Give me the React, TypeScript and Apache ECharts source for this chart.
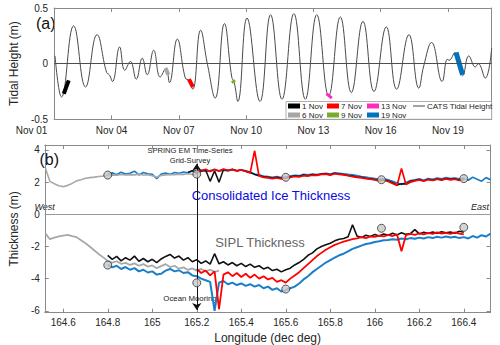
import React, { useEffect, useRef } from "react";
import * as echarts from "echarts";

// ---------- Panel (a): CATS tidal height (days since Nov 01 00:00) ----------
const tideDay = [0.48, 0.77, 1.31, 1.84, 2.35, 2.78, 2.9, 3.04, 3.36, 3.59, 3.84, 4.1, 4.37, 4.59, 4.88, 5.17, 5.43, 5.58, 5.93, 6.29, 6.45, 6.62, 6.97, 7.28, 7.62, 8.03, 8.36, 8.47, 8.63, 9.04, 9.62, 10.09, 10.6, 11.13, 11.64, 12.15, 12.68, 13.2, 13.69, 14.21, 14.7, 15.25, 15.71, 16.26, 16.7, 16.92, 17.27, 17.74, 17.97, 18.05, 18.31, 18.65, 18.93, 19.22, 19.35, 19.66, 19.95];
const tideHeight = [0.07, -0.3, 0.34, -0.21, 0.26, -0.08, -0.1, -0.16, 0.15, -0.06, 0.02, -0.14, 0.05, -0.1, 0.12, -0.12, -0.04, -0.17, 0.22, -0.13, -0.15, -0.23, 0.3, -0.01, -0.31, 0.36, -0.12, -0.17, -0.34, 0.41, -0.34, 0.44, -0.32, 0.45, -0.32, 0.44, -0.29, 0.42, -0.26, 0.38, -0.25, 0.33, -0.23, 0.26, -0.22, -0.02, 0.19, -0.16, 0.04, 0.03, 0.1, -0.11, 0.07, -0.03, 0.0, -0.13, 0.14];

const tideTickDays = [0, 3, 6, 9, 12, 15, 18];
const tideTickLabels = ["Nov 01", "Nov 04", "Nov 07", "Nov 10", "Nov 13", "Nov 16", "Nov 19"];

// survey segments on the tide curve
const seg1NovDay = [0.87, 1.09], seg1NovH = [-0.27, -0.15];
const seg6NovDay = [5.41, 5.53], seg6NovH = [-0.04, -0.1];
const seg7NovDay = [6.45, 6.63], seg7NovH = [-0.14, -0.21];
const seg9NovDay = [8.4, 8.47], seg9NovH = [-0.15, -0.17];
const seg13NovDay = [12.58, 12.82], seg13NovH = [-0.27, -0.31];
const seg19NovDay = [18.36, 18.65], seg19NovH = [0.1, -0.1];

// ---------- Panel (b): thickness along longitude (0.02 deg sampling) ----------
const LON_STEP = 0.02;
const consGrayStart = 164.52;
const consGray = [2.85, 2.05, 1.9, 1.78, 1.72, 1.8, 1.92, 2.08, 2.15, 2.24, 2.28, 2.31, 2.35, 2.38, 2.42, 2.45, 2.43, 2.48, 2.44, 2.47, 2.45, 2.5, 2.44, 2.46, 2.4, 2.3, 2.42, 2.45, 2.48, 2.46, 2.5, 2.47, 2.52, 2.48, 2.5];
const consBlueStart = 164.8;
const consBlue = [2.5, 2.58, 2.46, 2.62, 2.5, 2.55, 2.68, 2.45, 2.6, 2.52, 2.48, 2.22, 2.5, 2.56, 2.48, 2.6, 2.55, 2.62, 2.58, 2.7, 2.62, 2.75, 2.66, 2.72, 2.8, 2.68, 2.74, 2.7, 2.78, 2.72, 2.76, 2.7, 2.62, 2.5, 2.45, 2.38, 2.35, 2.3, 2.34, 2.28, 2.32, 2.38, 2.42, 2.4, 2.48, 2.45, 2.5, 2.47, 2.52, 2.55, 2.5, 2.58, 2.55, 2.52, 2.48, 2.45, 2.4, 2.35, 2.32, 2.26, 2.22, 2.18, 2.2, 2.15, 2.05, 1.95, 1.85, 1.98, 2.1, 2.15, 2.2, 2.12, 2.22, 2.18, 2.25, 2.2, 2.28, 2.22, 2.26, 2.2, 2.24, 2.12, 2.3, 2.18, 2.06, 2.28, 2.15];
const consBlackStart = 165.16;
const consBlack = [2.6, 2.72, 2.55, 2.68, 2.75, 2.05, 2.7, 2.0, 2.78, 2.72, 2.8, 2.7, 2.76, 2.68, 2.6, 2.48, 2.4, 2.34, 2.3, 2.26, 2.3, 2.24, 2.28, 2.34, 2.38, 2.36, 2.44, 2.4, 2.48, 2.44, 2.5, 2.52, 2.46, 2.55, 2.5, 2.48, 2.42, 2.38, 2.32, 2.3, 2.24, 2.2, 2.16, 2.1, 2.14, 2.08, 1.96, 1.82, 1.9, 1.88, 2.05, 2.1, 2.16, 2.08, 2.18, 2.12, 2.2, 2.15, 2.22, 2.18, 2.2, 2.14, 2.2];
const consRedStart = 165.2;
const consRed = [2.62, 2.72, 2.8, 2.66, 2.78, 2.7, 2.82, 2.74, 2.78, 2.7, 2.76, 2.66, 2.58, 3.95, 2.38, 2.3, 2.26, 2.22, 2.26, 2.2, 2.25, 2.3, 2.35, 2.32, 2.4, 2.38, 2.44, 2.42, 2.48, 2.5, 2.44, 2.52, 2.48, 2.45, 2.4, 2.34, 2.3, 2.26, 2.22, 2.18, 2.14, 2.08, 2.12, 2.04, 1.92, 1.8, 2.85, 1.86, 2.0, 2.08, 2.14, 2.06, 2.16, 2.1, 2.18, 2.12, 2.2, 2.14, 2.18, 2.1, 2.16];

const siplGrayStart = 164.52;
const siplGray = [-1.2, -1.55, -1.45, -1.38, -1.32, -1.28, -1.36, -1.42, -1.62, -1.8, -2.02, -2.25, -2.48, -2.68, -2.9, -3.0, -2.92, -3.08, -3.02, -3.15, -3.05, -3.2, -3.1, -3.25, -3.18, -3.35, -3.22, -3.1, -3.28, -3.2, -3.38, -3.3, -3.45, -3.36, -3.5, -3.4, -3.55, -3.45, -3.58, -3.5];
const siplBlackStart = 164.8;
const siplBlack = [-2.55, -2.8, -2.62, -2.9, -2.7, -2.85, -2.6, -2.92, -2.75, -2.95, -2.8, -3.0, -2.78, -2.62, -2.5, -2.72, -2.6, -2.85, -2.7, -2.95, -2.82, -3.05, -2.9, -3.1, -2.45, -3.08, -2.95, -3.15, -3.0, -3.2, -3.05, -3.25, -3.1, -3.3, -3.2, -3.4, -3.3, -3.5, -3.42, -3.58, -3.45, -3.35, -3.15, -3.0, -2.8, -2.55, -2.4, -2.15, -2.0, -1.9, -1.8, -1.65, -1.55, -1.5, -1.4, -0.65, -1.35, -1.45, -1.3, -1.38, -1.25, -1.35, -1.22, -1.3, -1.18, -1.28, -1.15, -1.25, -1.2, -0.95, -1.22, -1.12, -1.2, -1.1, -1.18, -1.08, -1.15, -1.1, -1.18, -1.05, -1.12];
const siplRedStart = 165.2;
const siplRed = [-3.4, -3.65, -3.5, -3.8, -3.55, -5.9, -3.75, -3.6, -3.85, -3.65, -3.9, -3.7, -3.95, -3.75, -4.0, -3.85, -4.05, -3.95, -4.2, -4.1, -4.25, -4.0, -3.8, -3.6, -3.35, -3.1, -2.85, -2.6, -2.4, -2.2, -2.05, -1.9, -1.8, -1.7, -1.62, -1.55, -1.5, -1.42, -1.48, -1.38, -1.4, -1.32, -1.38, -1.28, -1.35, -1.25, -2.3, -1.3, -1.22, -1.28, -1.18, -1.25, -1.15, -1.22, -1.12, -1.2, -1.15, -1.22, -1.12, -1.2, -1.25];
const siplBlueStart = 164.8;
const siplBlue = [-3.15, -3.3, -3.2, -3.4, -3.28, -3.45, -3.35, -3.55, -3.45, -3.62, -3.55, -3.75, -3.7, -3.5, -3.4, -3.55, -3.48, -3.65, -3.6, -3.8, -3.85, -4.0, -4.1, -4.2, -6.0, -4.25, -4.15, -4.35, -4.25, -4.4, -4.3, -4.45, -4.35, -4.5, -4.4, -4.6, -4.5, -4.7, -4.6, -4.8, -4.72, -4.6, -4.5, -4.3, -4.05, -3.85, -3.6, -3.4, -3.2, -3.0, -2.85, -2.7, -2.55, -2.45, -2.3, -2.15, -2.05, -1.95, -1.85, -1.8, -1.72, -1.68, -1.62, -1.6, -1.55, -1.58, -1.5, -1.55, -1.48, -1.52, -1.45, -1.5, -1.42, -1.48, -1.4, -1.45, -1.38, -1.44, -1.4, -1.48, -1.42, -1.5, -1.35, -1.45, -1.3, -1.38, -1.2];

// drill / survey sites (grey circles)
const siteLon = [164.8, 165.2, 165.6, 166.03, 166.4];
const siteConsolidated = [2.44, 2.5, 2.3, 2.15, 2.22];
const siteSipl = [-3.16, -4.26, -4.65, -0.87, -0.81];
const mooringLon = 165.2;

const lonTicks = [164.6, 164.8, 165, 165.2, 165.4, 165.6, 165.8, 166, 166.2, 166.4];
const thickTicks = [-6, -4, -2, 0, 2, 4];

// legend layout: [name, column x, row]
const legendItems: [string, number, number][] = [
  ["1 Nov", 288, 0], ["7 Nov", 327, 0], ["13 Nov", 367, 0], ["CATS Tidal Height", 413, 0],
  ["6 Nov", 288, 1], ["9 Nov", 327, 1], ["19 Nov", 367, 1],
];

const FONT = "'Liberation Sans', Arial, Helvetica, sans-serif";
const AX = "#8a8a8a";
const TXT = "#262626";

const A = { left: 41.7, right: 8.3, top: 8, height: 111.3 };
const B = { left: 31.7, right: 9.5, top: 145, height: 167.7 };
const A_MIN = 0.44, A_MAX = 19.95;
const B_MIN = 164.517, B_MAX = 166.52;

const LINE_ICON = "path://M0,0h12v0.01h-12z M0,2.1h12v0.9h-12z M0,5h12v0.01h-12z";

const zip = (xs: number[], ys: number[]) => ys.map((y, i) => [xs[i], y]);
const along = (start: number, vals: number[]) => vals.map((v, i) => [+(start + i * LON_STEP).toFixed(3), v]);

function seg(name: string, xs: number[], ys: number[], color: string, width: number) {
  return {
    type: "line", name, xAxisIndex: 0, yAxisIndex: 0, data: zip(xs, ys), symbol: "none",
    lineStyle: { color, width, cap: "butt" }, itemStyle: { color }, z: 3, silent: true,
  };
}
function trace(name: string, start: number, vals: number[], color: string, width = 1.7, opacity = 1) {
  return {
    type: "line", name, xAxisIndex: 2, yAxisIndex: 2, data: along(start, vals), symbol: "none",
    lineStyle: { color, width, opacity }, itemStyle: { color }, silent: true,
  };
}

function baseAxis(extra: any) {
  return {
    type: "value",
    axisLine: { show: true, onZero: false, lineStyle: { color: AX, width: 1 } },
    splitLine: { show: false },
    ...extra,
  };
}

export default function App() {
  const ref = useRef<HTMLDivElement>(null);
  useEffect(() => {
    const chart = echarts.init(ref.current!, null, { renderer: "svg" });
    const innerTicks = tideTickDays.slice(1);
    const tideLabel = (v: number) => tideTickLabels[tideTickDays.indexOf(Math.round(v))] ?? "";
    const wA = 500 - A.left - A.right;
    const nov01X = A.left + ((tideTickDays[0] - A_MIN) / (A_MAX - A_MIN)) * wA;

    const legends = legendItems.map(([name, x, row]) => ({
      data: [{ name, icon: name === "CATS Tidal Height" ? LINE_ICON : "rect" }],
      left: x, top: 102 + row * 9, itemWidth: 12, itemHeight: 5, itemGap: 0, padding: 0,
      selectedMode: false,
      textStyle: { fontSize: 8, color: TXT, fontFamily: FONT, padding: [0, 0, 0, -3] },
    }));

    const option: any = {
      animation: false,
      textStyle: { fontFamily: FONT },
      grid: [
        { left: A.left, right: A.right, top: A.top, height: A.height },
        { left: B.left, right: B.right, top: B.top, height: B.height },
      ],
      xAxis: [
        baseAxis({
          gridIndex: 0, min: A_MIN, max: A_MAX,
          axisTick: { inside: true, length: 4, customValues: innerTicks, lineStyle: { color: AX } },
          axisLabel: { customValues: innerTicks, formatter: tideLabel, color: TXT, fontSize: 10, margin: 6 },
        }),
        baseAxis({
          gridIndex: 0, min: A_MIN, max: A_MAX, position: "top",
          axisTick: { inside: true, length: 4, customValues: innerTicks, lineStyle: { color: AX } },
          axisLabel: { show: false },
        }),
        baseAxis({
          gridIndex: 1, min: B_MIN, max: B_MAX,
          axisTick: { inside: true, length: 4, customValues: lonTicks, lineStyle: { color: AX } },
          axisLabel: { customValues: lonTicks, formatter: (v: number) => String(+v.toFixed(1)), color: TXT, fontSize: 10, margin: 5 },
          name: "Longitude (dec deg)", nameLocation: "middle", nameGap: 19,
          nameTextStyle: { fontSize: 12, color: TXT },
        }),
        baseAxis({
          gridIndex: 1, min: B_MIN, max: B_MAX, position: "top",
          axisTick: { inside: true, length: 4, customValues: lonTicks, lineStyle: { color: AX } },
          axisLabel: { show: false },
        }),
      ],
      yAxis: [
        baseAxis({
          gridIndex: 0, min: -0.5, max: 0.5, interval: 0.5,
          axisTick: { inside: true, length: 4, lineStyle: { color: AX } },
          axisLabel: { color: TXT, fontSize: 10, margin: 6 },
          name: "Tidal Height (m)", nameLocation: "middle", nameGap: 27,
          nameTextStyle: { fontSize: 12, color: TXT },
        }),
        baseAxis({
          gridIndex: 0, min: -0.5, max: 0.5, interval: 0.5, position: "right",
          axisTick: { inside: true, length: 4, lineStyle: { color: AX } },
          axisLabel: { show: false },
        }),
        baseAxis({
          gridIndex: 1, min: -6.12, max: 4.31,
          axisTick: { inside: true, length: 4, customValues: thickTicks, lineStyle: { color: AX } },
          axisLabel: { customValues: thickTicks, color: TXT, fontSize: 10, margin: 5 },
          name: "Thickness (m)", nameLocation: "middle", nameGap: 15,
          nameTextStyle: { fontSize: 12, color: TXT },
        }),
        baseAxis({
          gridIndex: 1, min: -6.12, max: 4.31, position: "right",
          axisTick: { inside: true, length: 4, customValues: thickTicks, lineStyle: { color: AX } },
          axisLabel: { show: false },
        }),
      ],
      legend: legends,
      graphic: [
        { type: "rect", shape: { x: 286, y: 101.5, width: 205.7, height: 17.8 }, style: { fill: "#fff", stroke: "#9a9a9a", lineWidth: 0.8 }, z: 3, silent: true },
        { type: "text", x: nov01X, y: A.top + A.height + 6, style: { text: tideTickLabels[0], fill: TXT, font: `10px ${FONT}`, textAlign: "center", textVerticalAlign: "top" } },
        { type: "text", x: 36, y: 23.5, style: { text: "(a)", fill: "#111", font: `16px ${FONT}`, textAlign: "left", textVerticalAlign: "middle" } },
        { type: "text", x: 39.5, y: 159.5, style: { text: "(b)", fill: "#111", font: `16px ${FONT}`, textAlign: "left", textVerticalAlign: "middle" } },
        { type: "text", x: 190, y: 150, style: { text: "SPRING EM Time-Series", fill: "#222", font: `7.6px ${FONT}`, textAlign: "center", textVerticalAlign: "middle" } },
        { type: "text", x: 190, y: 160.3, style: { text: "Grid-Survey", fill: "#222", font: `7.6px ${FONT}`, textAlign: "center", textVerticalAlign: "middle" } },
        { type: "text", x: 190, y: 298, style: { text: "Ocean Mooring", fill: "#222", font: `7.8px ${FONT}`, textAlign: "center", textVerticalAlign: "middle" } },
        { type: "text", x: 271, y: 195, style: { text: "Consolidated Ice Thickness", fill: "#0a0ae0", font: `13px ${FONT}`, textAlign: "center", textVerticalAlign: "middle" } },
        { type: "text", x: 260, y: 242, style: { text: "SIPL Thickness", fill: "#666", font: `13px ${FONT}`, textAlign: "center", textVerticalAlign: "middle" } },
        { type: "text", x: 34.5, y: 207.2, style: { text: "West", fill: "#222", font: `italic 9px ${FONT}`, textAlign: "left", textVerticalAlign: "middle" } },
        { type: "text", x: 489, y: 206.7, style: { text: "East", fill: "#222", font: `italic 9px ${FONT}`, textAlign: "right", textVerticalAlign: "middle" } },
      ],
      series: [
        {
          type: "line", name: "CATS Tidal Height", xAxisIndex: 0, yAxisIndex: 0,
          data: zip(tideDay, tideHeight), smooth: 0.45, symbol: "none",
          lineStyle: { color: "#4a4a4a", width: 1 }, itemStyle: { color: "#4a4a4a" }, z: 2, silent: true,
          markLine: {
            silent: true, symbol: "none", label: { show: false },
            lineStyle: { color: "#4d4d4d", width: 1, type: "solid" },
            data: [{ yAxis: 0 }],
          },
        },
        seg("1 Nov", seg1NovDay, seg1NovH, "#000000", 4),
        seg("6 Nov", seg6NovDay, seg6NovH, "#a6a6a6", 4),
        seg("7 Nov", seg7NovDay, seg7NovH, "#ff0000", 4),
        seg("9 Nov", seg9NovDay, seg9NovH, "#77ac30", 4),
        seg("13 Nov", seg13NovDay, seg13NovH, "#ff2bbf", 3),
        seg("19 Nov", seg19NovDay, seg19NovH, "#0072bd", 5),

        trace("19 Nov consolidated", consBlueStart, consBlue, "#1a7fc8"),
        trace("19 Nov SIPL", siplBlueStart, siplBlue, "#1a7fc8", 2),
        trace("1 Nov consolidated", consBlackStart, consBlack, "#111111", 1.5),
        trace("1 Nov SIPL", siplBlackStart, siplBlack, "#111111", 1.6),
        trace("6 Nov consolidated", consGrayStart, consGray, "#a8a8a8", 1.6),
        trace("6 Nov SIPL", siplGrayStart, siplGray, "#a8a8a8", 1.8),
        trace("7 Nov consolidated", consRedStart, consRed, "#ff0000", 1.7),
        trace("7 Nov SIPL", siplRedStart, siplRed, "#ff0000", 1.8),
        {
          type: "scatter", name: "sites", xAxisIndex: 2, yAxisIndex: 2,
          data: [...zip(siteLon, siteConsolidated), ...zip(siteLon, siteSipl)],
          symbol: "circle", symbolSize: 8,
          itemStyle: { color: "#c8c8c8", borderColor: "#333", borderWidth: 1 }, z: 5, silent: true,
          markLine: {
            silent: true, symbol: "none", label: { show: false },
            lineStyle: { color: "#9a9a9a", width: 1, type: "solid" },
            data: [{ yAxis: 0 }],
          },
        },
        {
          type: "line", name: "mooring", xAxisIndex: 2, yAxisIndex: 2, data: [], symbol: "none",
          markLine: {
            silent: true, symbol: ["arrow", "arrow"], symbolSize: 7, label: { show: false },
            lineStyle: { color: "#111", width: 1, type: "solid" },
            data: [[{ coord: [mooringLon, -5.95] }, { coord: [mooringLon, 3.15] }]],
          },
        },
      ],
    };
    chart.setOption(option);
    return () => chart.dispose();
  }, []);
  return <div ref={ref} style={{ position: "fixed", left: 0, top: 0, width: 500, height: 345, background: "#fff" }} />;
}
